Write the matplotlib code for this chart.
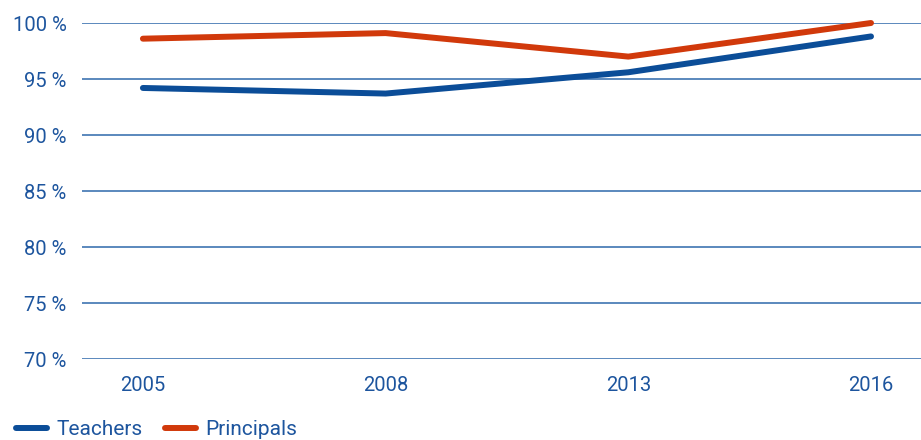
import matplotlib.pyplot as plt
from matplotlib.ticker import FuncFormatter

plt.rcParams['font.family'] = ['Roboto', 'DejaVu Sans']

years = ['2005', '2008', '2013', '2016']
teachers = [94.2, 93.7, 95.6, 98.8]
principals = [98.6, 99.1, 97.0, 100.0]
y_ticks = [70, 75, 80, 85, 90, 95, 100]

text_color = '#1d559e'
grid_color = '#4d7fb8'
teachers_color = '#0b4d98'
principals_color = '#d1390b'

fig = plt.figure(figsize=(9.21, 4.40), dpi=100)
ax = fig.add_axes([82 / 921, 1 - 359 / 440, 1 - 82 / 921, 336 / 440])

x = list(range(len(years)))
ax.plot(x, teachers, color=teachers_color, lw=4.3, solid_capstyle='round',
        clip_on=False, label='Teachers', zorder=3)
ax.plot(x, principals, color=principals_color, lw=4.3, solid_capstyle='round',
        clip_on=False, label='Principals', zorder=3)

ax.set_ylim(70, 100)
ax.set_xlim(-0.251, 3.206)
ax.set_yticks(y_ticks)
ax.yaxis.set_major_formatter(FuncFormatter(lambda v, _: f'{v:.0f} %'))
ax.set_xticks(x)
ax.set_xticklabels(years)

for y in y_ticks:
    ax.axhline(y, color=grid_color, lw=1.3, zorder=1)

for s in ax.spines.values():
    s.set_visible(False)
ax.tick_params(axis='both', length=0, labelsize=14.5, labelcolor=text_color)
ax.tick_params(axis='y', pad=11)
ax.tick_params(axis='x', pad=12)

leg = fig.legend(loc='lower left', bbox_to_anchor=(-0.003, -0.04), ncol=2,
                 frameon=False, fontsize=15, handlelength=1.5,
                 handletextpad=0.45, columnspacing=1.05)
for t in leg.get_texts():
    t.set_color(text_color)
for h in leg.get_lines():
    h.set_solid_capstyle('round')

fig.savefig('out.png', dpi=100)
